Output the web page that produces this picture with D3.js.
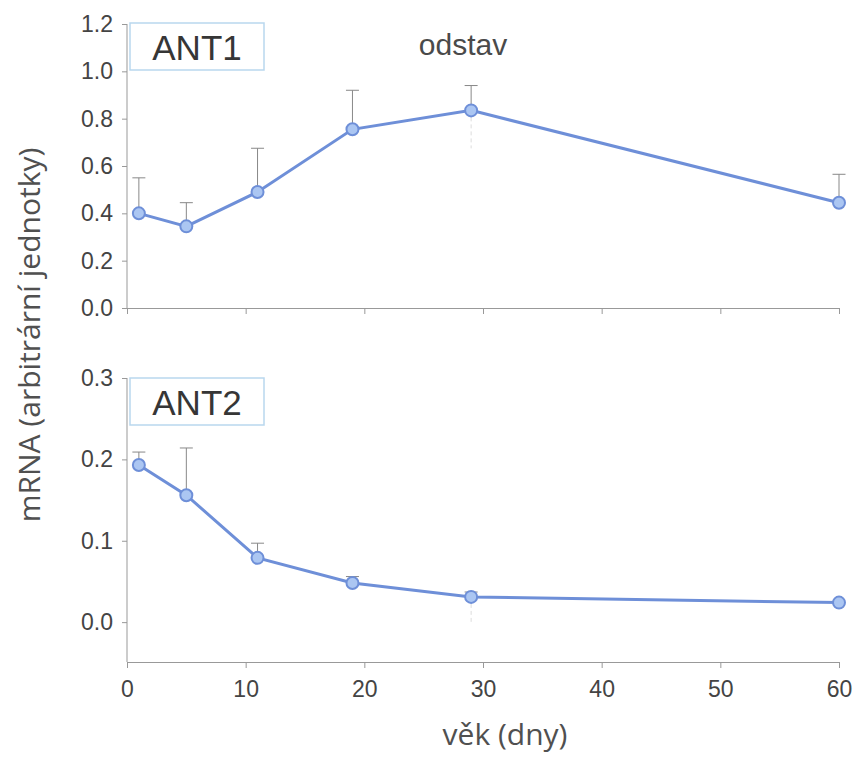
<!DOCTYPE html>
<html><head><meta charset="utf-8">
<script src="https://cdn.jsdelivr.net/npm/d3@7/dist/d3.min.js"></script>
<style>body{margin:0;background:#fff;} svg{display:block;}</style>
</head><body>
<svg id="c" width="856" height="758"></svg>
<script>
const days = [1, 5, 11, 19, 29, 60];
const ant1 = [0.40, 0.345, 0.49, 0.755, 0.835, 0.445];
const ant1Err = [0.15, 0.10, 0.185, 0.165, 0.105, 0.12];
const ant2 = [0.193, 0.156, 0.079, 0.048, 0.031, 0.024];
const ant2Err = [0.016, 0.058, 0.018, 0.008, 0.006, 0.0];
const xTicks = [0, 10, 20, 30, 40, 50, 60];
const ant1Ticks = [0.0, 0.2, 0.4, 0.6, 0.8, 1.0, 1.2];
const ant2Ticks = [0.0, 0.1, 0.2, 0.3];

const svg = d3.select("#c");
const x = d3.scaleLinear().domain([0, 60]).range([127, 839]);
const y1 = d3.scaleLinear().domain([0, 1.2]).range([308, 24]);
const y2 = d3.scaleLinear().domain([-0.049, 0.3]).range([662, 378]);

const axisCol = "#999";
const textCol = "#444";
const lineCol = "#6e8fd8";
const fillCol = "#abc6f2";
const arial = "Liberation Sans, Arial, sans-serif";

function panel(y, yTicks, vals, errs, title, showLabels, boxY) {
  const g = svg.append("g");
  const yMin = y.domain()[0];
  const ya = g.append("g").attr("transform", `translate(${x(0)},0)`)
    .call(d3.axisLeft(y).tickValues(yTicks).tickFormat(d3.format(".1f")).tickSize(5).tickSizeOuter(0));
  ya.attr("font-size", null).attr("font-family", null);
  ya.select(".domain").attr("stroke", axisCol).attr("d", `M0,${y(yMin)}V${y(y.domain()[1])}`);
  ya.selectAll(".tick line").attr("stroke", axisCol);
  ya.selectAll(".tick text").attr("fill", textCol).style("font-family", arial)
    .style("font-size", "23px").attr("x", -14);
  const xa = g.append("g").attr("transform", `translate(0,${y(yMin)})`)
    .call(d3.axisBottom(x).tickValues(xTicks).tickSize(6).tickSizeOuter(0).tickFormat(showLabels ? d3.format("d") : ""));
  xa.attr("font-size", null).attr("font-family", null);
  xa.select(".domain").attr("stroke", axisCol);
  xa.selectAll(".tick line").attr("stroke", axisCol);
  xa.selectAll(".tick text").attr("fill", textCol).style("font-family", arial)
    .style("font-size", "23px").attr("y", 14).attr("dy", "0.9em");

  const i29 = days.indexOf(29);
  g.append("line").attr("x1", x(29)).attr("x2", x(29))
    .attr("y1", y(vals[i29])).attr("y2", y(vals[i29]) + (y === y1 ? 38 : 27))
    .attr("stroke", "#ddd").attr("stroke-dasharray", "4,3").attr("stroke-width", 1);

  days.forEach((d, i) => {
    if (errs[i] <= 0) return;
    const top = y(vals[i] + errs[i]);
    g.append("line").attr("x1", x(d)).attr("x2", x(d)).attr("y1", y(vals[i])).attr("y2", top)
      .attr("stroke", "#888").attr("stroke-width", 1);
    g.append("line").attr("x1", x(d) - 6.5).attr("x2", x(d) + 6.5).attr("y1", top).attr("y2", top)
      .attr("stroke", "#888").attr("stroke-width", 1);
  });

  g.append("path").datum(days.map((d, i) => [d, vals[i]]))
    .attr("d", d3.line().x(p => x(p[0])).y(p => y(p[1])))
    .attr("fill", "none").attr("stroke", lineCol).attr("stroke-width", 3);
  g.selectAll("circle.pt").data(days.map((d, i) => [d, vals[i]])).join("circle")
    .attr("cx", p => x(p[0])).attr("cy", p => y(p[1])).attr("r", 6)
    .attr("fill", fillCol).attr("stroke", lineCol).attr("stroke-width", 2);

  g.append("rect").attr("x", 130).attr("y", boxY).attr("width", 134).attr("height", 47)
    .attr("fill", "#fff").attr("stroke", "#b9d7ee").attr("stroke-width", 1.5);
  g.append("text").attr("x", 197).attr("y", boxY + 37).attr("text-anchor", "middle")
    .attr("font-family", arial).attr("font-size", 35)
    .attr("fill", "#363636").text(title);
}

panel(y1, ant1Ticks, ant1, ant1Err, "ANT1", false, 23);
panel(y2, ant2Ticks, ant2, ant2Err, "ANT2", true, 378);

svg.append("text").attr("x", 463).attr("y", 55).attr("text-anchor", "middle")
  .attr("font-family", arial).attr("font-size", 30)
  .attr("fill", "#4a4a4a").text("odstav");

svg.append("text").attr("transform", "translate(40,335) rotate(-90)").attr("text-anchor", "middle")
  .attr("font-family", "Open Sans, sans-serif").attr("font-size", 30).attr("fill", "#505050")
  .text("mRNA (arbitrární jednotky)");

svg.append("text").attr("x", 505).attr("y", 745).attr("text-anchor", "middle")
  .attr("font-family", "Open Sans, sans-serif").attr("font-size", 30).attr("fill", "#505050")
  .text("věk (dny)");
</script>
</body></html>
